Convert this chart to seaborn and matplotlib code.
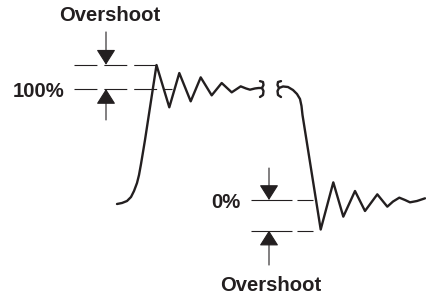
import matplotlib
matplotlib.use("Agg")
import matplotlib.pyplot as plt
import seaborn as sns
import pandas as pd

# signal level in % (100% = settled high, 0% = settled low), time in arbitrary units
rise_t = [117, 122, 127, 131, 134, 137, 139, 141, 143, 145, 156.5, 169.3, 179.3, 190.7,
          200.7, 211.7, 221.7, 231.7, 240.7, 246, 250, 255, 258.5, 262]
rise_lvl = [-3.6, -2.7, -0.9, 2.7, 8.1, 15.3, 22.5, 32.4, 43.2, 54.1, 121.6, 83.5, 114.4, 88.9,
            110.5, 94.3, 105.4, 97.0, 102.4, 100.5, 99.4, 100.5, 100.9, 100.9]

fall_t = [279, 283, 288, 293, 297, 300, 301.5, 302.5, 320.7, 333.3, 343.3, 355, 365, 377.3,
          387.3, 393, 399.3, 405, 410, 417, 425]
fall_lvl = [100.9, 102.3, 101.8, 99.1, 95.5, 91.0, 84.7, 76.6, -26.6, 15.9, -15.0, 8.1, -9.9, 5.1,
            -6.0, -1.4, 2.1, 0.0, -2.1, -0.9, 1.5]

# time-axis break marks
brk1_t = [260, 263, 263.5, 262, 263.5, 263, 260]
brk2_t = [281, 278, 277.5, 279, 277.5, 278, 281]
brk_lvl = [107.1, 106.3, 103.6, 100.9, 98.2, 94.6, 92.8]

high_level = 100
high_over = 121.9
low_level = 0
low_over = -27.6

ink = "#231f20"

sns.set_style("white")
plt.rcParams["font.family"] = ["Liberation Sans", "DejaVu Sans"]
plt.rcParams["lines.scale_dashes"] = False

fig = plt.figure(figsize=(4.26, 2.99), dpi=100)
ax = fig.add_axes([0, 0, 1, 1])

wave_kw = dict(color=ink, linewidth=1.7, estimator=None, sort=False,
               solid_joinstyle="round", solid_capstyle="round", ax=ax)
sns.lineplot(data=pd.DataFrame({"t": rise_t, "lvl": rise_lvl}), x="t", y="lvl", **wave_kw)
sns.lineplot(data=pd.DataFrame({"t": fall_t, "lvl": fall_lvl}), x="t", y="lvl", **wave_kw)
sns.lineplot(data=pd.DataFrame({"t": brk1_t, "lvl": brk_lvl}), x="t", y="lvl", **wave_kw)
sns.lineplot(data=pd.DataFrame({"t": brk2_t, "lvl": brk_lvl}), x="t", y="lvl", **wave_kw)

# dashed reference levels
ax.hlines(high_over, 74, 157, color=ink, lw=0.8, linestyles=(0, (16.5, 5)))
ax.hlines(high_level, 74, 172, color=ink, lw=0.8, linestyles=(0, (16.5, 5)))
ax.hlines(low_level, 251, 313, color=ink, lw=0.8, linestyles=(0, (29.5, 3.6)))
ax.hlines(low_over, 251, 313, color=ink, lw=0.8, linestyles=(0, (29.5, 3.6)))

# arrows
arr = dict(arrowstyle="-|>,head_length=0.95,head_width=0.6", color=ink, lw=0.8,
           shrinkA=0, shrinkB=0, mutation_scale=10)
ax.annotate("", xy=(106, high_over), xytext=(106, 151.4), arrowprops=arr)
ax.annotate("", xy=(106, high_level), xytext=(106, 72.1), arrowprops=arr)
ax.annotate("", xy=(269, low_level), xytext=(269, 28.8), arrowprops=arr)
ax.annotate("", xy=(269, low_over), xytext=(269, -58.6), arrowprops=arr)

txt = dict(fontsize=14.6, fontweight="bold", color=ink, va="center")
ax.text(110, 166.2, "Overshoot", ha="center", **txt)
ax.text(65, 97.7, "100%", ha="right", **txt)
ax.text(240, -2.3, "0%", ha="right", **txt)
ax.text(271, -77, "Overshoot", ha="center", **txt)

ax.set_xlim(0, 426)
ax.set_ylim(-89.2, 180.2)
ax.axis("off")

fig.savefig("out.png", dpi=100)
